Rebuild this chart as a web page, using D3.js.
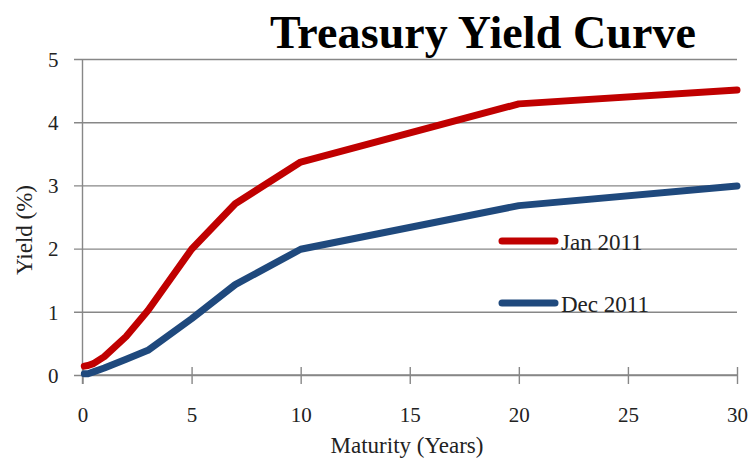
<!DOCTYPE html>
<html>
<head>
<meta charset="utf-8">
<script src="https://cdn.jsdelivr.net/npm/d3@7"></script>
<style>
  body { margin: 0; background: #fff; }
  text { font-family: "Liberation Serif", "Times New Roman", serif; fill: #222; }
</style>
</head>
<body>
<svg id="chart" width="755" height="458"></svg>
<script>
// maturities in years (1m, 3m, 6m, 1y, 2y, 3y, 5y, 7y, 10y, 20y, 30y)
const maturities = [1 / 12, 0.25, 0.5, 1, 2, 3, 5, 7, 10, 20, 30];
const jan2011 = [0.14, 0.15, 0.18, 0.29, 0.61, 1.02, 1.99, 2.71, 3.37, 4.29, 4.51];
const dec2011 = [0.02, 0.02, 0.05, 0.11, 0.25, 0.39, 0.89, 1.43, 1.99, 2.68, 2.99];
const seriesNames = ["Jan 2011", "Dec 2011"];
const seriesColors = ["#c00000", "#1f497d"];
const xTicks = [0, 5, 10, 15, 20, 25, 30];
const yTicks = [0, 1, 2, 3, 4, 5];

const svg = d3.select("#chart");
const plotLeft = 82.5, plotRight = 737, plotTop = 59, plotBottom = 375;
const grey = "#878787";

const x = d3.scaleLinear().domain([0, 30]).range([plotLeft, plotRight]);
const y = d3.scaleLinear().domain([0, 5]).range([plotBottom, plotTop]);

// horizontal gridlines with the y axis ticks sticking out to the left
const yAxis = d3.axisLeft(y).tickValues(yTicks).tickSize(-(plotRight - plotLeft)).tickFormat(d3.format("d"));
const gy = svg.append("g").attr("transform", `translate(${plotLeft},0)`).call(yAxis);
gy.select(".domain").remove();
gy.selectAll(".tick line").attr("x1", -8.5).attr("x2", plotRight - plotLeft).attr("stroke", grey).attr("stroke-width", 1.4);
gy.selectAll(".tick text")
    .attr("x", -24)
    .attr("text-anchor", "end")
    .attr("font-size", 21)
    .attr("dy", "0.35em");

// y axis line
svg.append("line")
    .attr("x1", plotLeft).attr("x2", plotLeft)
    .attr("y1", plotTop).attr("y2", plotBottom + 9)
    .attr("stroke", grey).attr("stroke-width", 1.4);

// x axis with ticks crossing the line
const xAxis = d3.axisBottom(x).tickValues(xTicks).tickSize(9).tickPadding(23).tickFormat(d3.format("d"));
const gx = svg.append("g").attr("transform", `translate(0,${plotBottom})`).call(xAxis);
gx.select(".domain").attr("stroke", grey).attr("stroke-width", 1.4).attr("d", `M${plotLeft},0H${plotRight}`);
gx.selectAll(".tick line").attr("y1", -8).attr("y2", 9).attr("stroke", grey).attr("stroke-width", 1.4);
gx.selectAll(".tick text").attr("font-size", 21);

// series lines
const line = d3.line()
    .x((d, i) => x(maturities[i]))
    .y(d => y(d));

[jan2011, dec2011].forEach((vals, i) => {
    svg.append("path")
        .datum(vals)
        .attr("d", line)
        .attr("fill", "none")
        .attr("stroke", seriesColors[i])
        .attr("stroke-width", 7)
        .attr("stroke-linecap", "round")
        .attr("stroke-linejoin", "round");
});

// legend
const legendY = [241, 303];
seriesNames.forEach((name, i) => {
    svg.append("line")
        .attr("x1", 502).attr("x2", 555)
        .attr("y1", legendY[i]).attr("y2", legendY[i])
        .attr("stroke", seriesColors[i])
        .attr("stroke-width", 7)
        .attr("stroke-linecap", "round");
    svg.append("text")
        .attr("x", 561).attr("y", legendY[i] + 9)
        .attr("font-size", 23)
        .text(name);
});

// title and axis titles
svg.append("text")
    .attr("x", 270).attr("y", 48)
    .attr("font-size", 46)
    .attr("font-weight", "bold")
    .style("fill", "#000")
    .attr("textLength", 426)
    .text("Treasury Yield Curve");

svg.append("text")
    .attr("x", 407).attr("y", 453)
    .attr("text-anchor", "middle")
    .attr("font-size", 23)
    .text("Maturity (Years)");

svg.append("text")
    .attr("transform", "translate(32,230) rotate(-90)")
    .attr("text-anchor", "middle")
    .attr("font-size", 23)
    .text("Yield (%)");
</script>
</body>
</html>
